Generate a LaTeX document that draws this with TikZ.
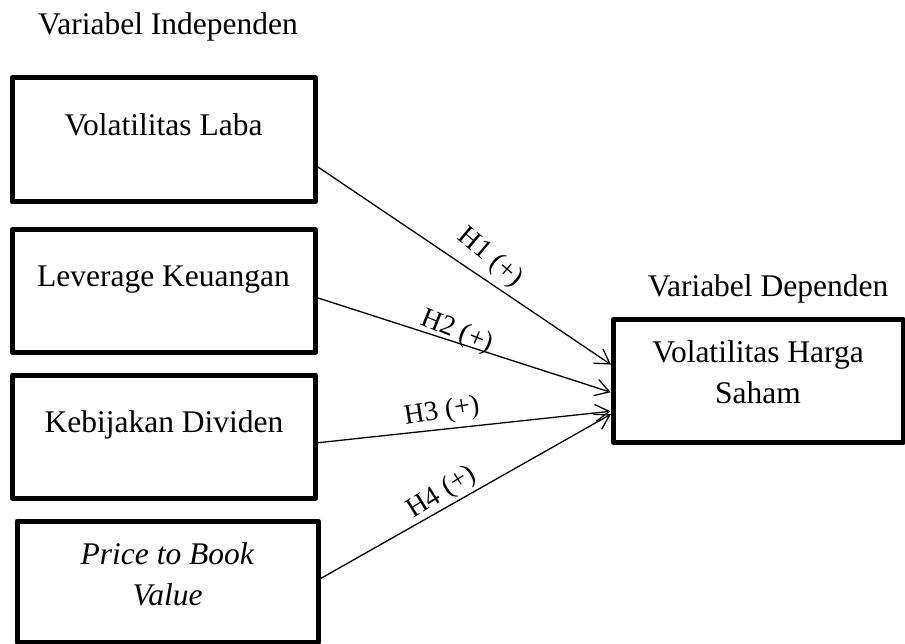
\documentclass[tikz,border=0pt]{standalone}
\usepackage{fontspec}
\setmainfont{Liberation Serif}
\usetikzlibrary{arrows.meta}
\begin{document}
\begin{tikzpicture}[x=1pt,y=-1pt,
  box/.style={draw, line width=5pt, line join=round, inner sep=0pt, outer sep=0pt, minimum width=#1},
  box/.default=303pt,
  txt/.style={font=\fontsize{31.5}{43}\selectfont, anchor=base, align=center, inner sep=0pt},
  hyp/.style={font=\fontsize{28}{34}\selectfont, anchor=center, inner sep=0pt},
  conn/.style={line width=1.3pt, -{Straight Barb[length=14pt,width=17pt,line width=1.3pt]}, shorten >=2.5pt}]
\useasboundingbox (0,0) rectangle (905,644);
% boxes
\node[box, minimum height=124pt] (b1) at (163.5,140) {};
\node[box, minimum height=122pt] (b2) at (163.5,291) {};
\node[box, minimum height=123pt] (b3) at (164,436.5) {};
\node[box, minimum height=121pt, minimum width=301pt] (b4) at (167.5,581.5) {};
\node[box=290pt, minimum height=122pt] (dep) at (758,381) {};
% texts
\node[txt] (tI) at (168,35) {Variabel Independen};
\node[txt] (tD) at (768,297) {Variabel Dependen};
\node[txt] (t1) at (163.5,136) {Volatilitas Laba};
\node[txt] (t2) at (163.5,287) {Leverage Keuangan};
\node[txt] (t3) at (164,432) {Kebijakan Dividen};
\node[txt] (t4) at (167.5,605) {\textit{Price to Book}\\[-2pt]\textit{Value}};
\node[txt] (t5) at (758,403) {Volatilitas Harga\\[-2pt]Saham};
% connectors
\draw[conn] ([yshift=-25pt]b1.east) -- ([yshift=15pt]dep.west);
\draw[conn] ([yshift=-6pt]b2.east) -- ([yshift=-12pt]dep.west);
\draw[conn] ([yshift=-6.5pt]b3.east) -- ([yshift=-30pt]dep.west);
\draw[conn] ([yshift=1.5pt]b4.east) -- ([yshift=-32pt]dep.west);
% labels
\node[hyp, rotate=-40] (h1) at (490,258) {H1 (+)};
\node[hyp, rotate=-22] (h2) at (457,332) {H2 (+)};
\node[hyp, rotate=9] (h3) at (442,412) {H3 (+)};
\node[hyp, rotate=32] (h4) at (442,493) {H4 (+)};
\end{tikzpicture}
\end{document}
